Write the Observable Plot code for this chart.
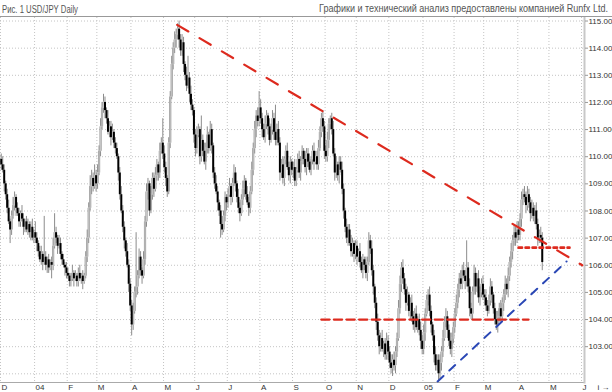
<!DOCTYPE html>
<html>
<head>
<meta charset="utf-8">
<script src="https://cdn.jsdelivr.net/npm/d3@7"></script>
<script src="https://cdn.jsdelivr.net/npm/@observablehq/plot@0.6"></script>
<style>
  html, body { margin: 0; padding: 0; background: #ffffff; }
  body { width: 612px; height: 392px; overflow: hidden; font-family: "Liberation Sans", Arial, sans-serif; }
  svg { display: block; }
</style>
</head>
<body>
<svg id="hdr" width="612" height="17">
  <text x="2" y="12.5" font-size="10" fill="#555" textLength="76" lengthAdjust="spacingAndGlyphs" font-family="Liberation Sans, Arial, sans-serif">Рис. 1  USD/JPY Daily</text>
  <text x="608" y="11.5" font-size="11" fill="#555" text-anchor="end" textLength="289" lengthAdjust="spacingAndGlyphs" font-family="Liberation Sans, Arial, sans-serif">Графики и технический анализ предоставлены компанией Runfx Ltd.</text>
  <line x1="0" x2="612" y1="16.5" y2="16.5" stroke="#999" stroke-width="1"></line>
</svg>
<div id="chart"></div>
<script>
// ---- axis data ----
const monthStart  = [0, 23, 45, 65, 88, 110, 131, 153, 175, 197, 219, 240, 262, 285, 306, 326, 349, 370, 392];
const monthLabels = ["D", "04", "F", "M", "A", "M", "J", "J", "A", "S", "O", "N", "D", "05", "F", "M", "A", "M", "J"];
const priceTicks  = [103, 104, 105, 106, 107, 108, 109, 110, 111, 112, 113, 114, 115];
const priceGrid   = [102, 103, 104, 105, 106, 107, 108, 109, 110, 111, 112, 113, 114, 115];

// ---- USD/JPY daily closes, Dec 2003 .. Apr 2005 (one per weekday) ----
const firstOpen = 109.9;
const close = [
  109.7,109.5,109.0,108.6,108.1,107.6,107.3,107.8,108.2,108.5,108.1,107.9,107.6,107.9,107.7,107.4,107.6,107.3,107.5,107.2,107.4,107.0,107.2,
  107.0,106.8,106.5,106.2,106.4,106.1,106.3,106.0,106.2,105.9,106.1,106.0,106.7,107.2,107.0,106.7,106.8,106.4,106.2,106.0,105.9,105.7,
  105.6,105.4,105.5,105.7,105.5,105.6,105.4,105.7,105.5,105.6,105.4,105.6,106.3,107.0,108.1,108.9,109.2,108.9,109.3,109.0,
  109.4,110.2,111.1,111.8,112.0,111.7,111.4,110.9,111.1,110.7,110.9,110.5,110.3,110.0,109.4,108.6,108.0,107.4,106.9,106.5,106.0,105.3,104.5,
  103.8,104.3,105.0,105.2,105.6,106.3,105.8,105.6,106.2,107.6,108.7,109.0,108.0,108.6,109.2,108.8,109.3,109.7,109.4,110.2,110.5,110.1,
  109.6,109.2,108.7,110.5,112.2,113.4,114.0,114.3,114.5,114.7,114.3,113.9,114.2,113.4,113.0,112.6,112.9,112.3,111.9,111.7,110.8,
  110.3,110.8,111.0,110.0,110.6,110.2,109.8,110.3,110.8,110.3,111.0,110.4,109.4,109.0,108.7,108.3,108.0,107.5,107.3,107.8,108.5,108.3,
  108.6,108.9,108.5,109.0,109.4,109.0,108.5,108.1,107.9,108.4,108.8,109.1,108.6,108.3,108.1,108.7,109.5,110.3,111.0,111.5,111.3,111.8,
  111.4,111.0,110.7,111.2,111.5,111.1,110.6,111.0,111.4,110.9,110.6,111.0,110.5,109.4,109.7,109.2,109.9,110.2,109.6,109.3,109.8,109.5,
  109.6,109.1,109.5,109.9,109.4,109.8,110.2,109.9,109.6,110.1,109.8,109.5,109.9,110.2,109.8,110.0,109.7,110.3,110.9,111.4,111.1,110.2,
  110.0,110.6,111.2,111.4,111.0,110.1,109.4,109.7,109.3,109.8,109.5,108.8,108.0,107.4,107.0,107.3,106.8,106.5,106.8,106.4,106.7,
  106.3,106.5,106.1,105.8,106.2,106.0,105.7,106.1,106.9,106.6,105.8,105.2,104.6,103.9,103.4,103.0,103.3,102.9,103.1,102.7,103.2,102.8,
  102.4,102.2,102.5,102.3,102.8,103.3,104.4,105.3,105.9,105.5,105.1,104.6,104.9,104.3,104.6,104.1,103.8,104.2,103.7,104.0,103.6,103.2,102.9,
  103.5,104.2,104.7,104.9,104.3,103.8,103.4,102.7,102.3,102.5,102.0,102.4,102.8,103.3,103.9,104.1,103.6,103.2,102.9,103.3,103.7,
  104.2,104.6,105.1,105.5,105.3,105.8,105.6,105.4,105.9,105.2,104.4,104.2,105.0,105.7,105.2,105.5,104.8,105.0,105.3,104.9,
  104.8,104.5,104.3,104.7,105.2,104.9,104.4,104.0,103.8,104.1,104.4,104.1,104.6,104.9,105.3,105.1,105.6,106.1,106.5,106.9,107.2,107.0,107.3,
  107.1,107.7,108.4,108.6,108.5,108.2,108.6,108.3,107.9,108.1,107.8,108.0,107.5,107.0,107.1,107.0,106.1
];
// upper / lower shadows, tenths of a yen
const wickUp = [
  2,3,2,1,2,3,1,2,3,2,1,2,2,1,3,2,1,2,2,1,2,3,1,
  4,2,1,2,3,1,15,2,1,2,1,2,3,7,2,1,3,2,1,2,1,2,
  2,1,2,3,1,2,1,2,3,1,2,1,2,3,2,4,3,2,4,2,
  3,2,3,2,3,2,1,3,2,2,3,1,2,2,1,2,3,2,2,1,3,2,2,
  2,3,2,20,2,3,2,1,3,2,3,2,1,3,2,2,3,2,1,3,2,9,
  3,2,1,2,2,3,2,3,2,2,3,2,3,2,1,3,8,2,3,2,1,
  2,3,2,1,9,2,3,2,3,1,3,2,1,2,3,2,1,2,3,2,2,1,
  2,3,1,2,3,2,1,3,2,2,3,2,1,3,2,2,3,2,3,2,3,6,
  3,2,2,3,2,1,3,2,3,2,10,2,3,2,2,3,1,2,3,2,2,1,
  2,3,1,2,3,2,2,1,3,2,2,3,1,2,3,2,2,3,2,2,3,2,
  2,3,2,1,2,3,2,3,1,2,2,3,2,1,3,2,2,3,2,1,2,
  2,1,3,2,2,1,3,2,3,2,3,2,1,2,3,2,2,3,1,2,3,2,
  2,3,2,3,2,2,3,3,2,3,2,2,3,1,2,3,2,2,3,1,2,3,2,
  3,2,2,2,3,2,1,2,3,2,2,3,2,3,2,3,2,2,3,2,2,
  2,3,2,2,3,2,3,2,10,2,3,2,2,3,2,2,3,2,2,3,
  2,3,2,2,3,2,1,2,3,2,2,3,2,2,3,2,3,2,3,2,3,2,3,
  3,2,3,2,3,2,3,2,2,3,2,2,3,2,2,3,2
];
const wickDown = [
  2,1,3,2,2,1,5,2,1,2,3,1,2,2,1,3,2,1,2,2,3,1,2,
  2,3,2,1,2,3,1,2,3,2,1,5,2,1,2,3,1,2,2,1,3,2,
  1,2,2,1,3,1,2,2,1,2,3,1,1,2,2,1,3,2,1,3,
  2,1,2,1,2,3,2,1,2,3,1,2,2,1,3,2,1,2,3,2,1,3,2,
  4,2,1,2,3,1,2,3,1,2,2,3,2,1,2,3,1,2,3,2,1,2,
  2,3,2,1,2,1,2,2,3,2,3,2,2,3,2,2,1,3,2,2,3,
  3,2,1,3,2,2,1,3,2,2,1,3,2,2,1,3,2,5,2,1,2,3,
  2,1,3,2,1,3,2,2,3,1,2,3,2,1,3,2,1,2,2,3,2,2,
  2,3,1,2,2,3,2,1,2,3,2,2,1,3,2,2,3,2,1,2,3,2,
  3,2,2,1,2,3,1,2,2,3,2,1,2,2,3,1,2,2,1,2,2,3,
  2,2,3,2,2,1,3,2,2,3,1,2,3,2,2,3,1,2,2,3,2,
  3,2,2,1,3,2,2,3,1,2,2,3,2,3,2,3,2,1,3,2,2,3,
  2,2,3,2,3,2,1,2,3,2,2,3,1,2,3,2,2,3,1,2,2,3,2,
  2,3,1,2,2,3,2,3,2,2,3,2,3,2,1,2,3,2,2,3,2,
  2,1,2,3,2,2,1,3,2,2,3,2,2,1,3,2,2,3,2,2,
  3,2,2,1,2,3,2,2,2,3,2,2,1,3,2,2,3,2,2,3,2,3,2,
  2,2,3,2,2,3,2,2,3,2,2,3,2,3,2,2,3
];

// ---- analyst lines (day index, price) ----
const resistanceLine = [{i: 119.2, p: 114.86}, {i: 392.5, p: 106.0}];
const supportLine    = [{i: 216.4, p: 104.0},  {i: 356.3, p: 104.0}];
const dottedLevel    = [{i: 349.5, p: 106.65}, {i: 383.9, p: 106.65}];
const uptrendLine    = [{i: 294.9, p: 101.72}, {i: 381.9, p: 106.14}];

if (close.length !== wickUp.length || close.length !== wickDown.length) {
  throw new Error(`length mismatch ${close.length} ${wickUp.length} ${wickDown.length}`);
}

const candles = close.map((c, i) => {
  const o = i === 0 ? firstOpen : close[i - 1];
  return {i: i + 0.5, o, c, up: c >= o,
          h: Math.max(o, c) + wickUp[i] / 10,
          l: Math.min(o, c) - wickDown[i] / 10};
});
const upCandles = candles.filter(d => d.up);
const downCandles = candles.filter(d => !d.up);
const labelOf = new Map(monthStart.map((m, k) => [m, monthLabels[k]]));

const chart = Plot.plot({
  width: 612,
  height: 375,
  marginLeft: 0,
  marginRight: 28,
  marginTop: 0,
  marginBottom: 10,
  style: {background: "transparent", fontFamily: "Liberation Sans, Arial, sans-serif", fontSize: "8px", color: "#333"},
  x: {type: "linear", domain: [0, 394], axis: null},
  y: {type: "linear", domain: [101.68, 115.13], axis: null},
  marks: [
    Plot.gridY(priceGrid, {stroke: "#c4c4c4", strokeOpacity: 1, strokeDasharray: "1,2"}),
    Plot.gridX(monthStart, {stroke: "#c4c4c4", strokeOpacity: 1, strokeDasharray: "1,2"}),
    Plot.frame({anchor: "bottom", stroke: "#aaa"}),
    Plot.frame({anchor: "right", stroke: "#c8c8c8", strokeWidth: 2}),
    Plot.axisY(priceTicks, {anchor: "right", tickSize: 3, tickPadding: 1, stroke: "#999",
      tickFormat: d3.format(".4f"), fill: "#333", fontSize: 8}),
    Plot.axisX(monthStart, {anchor: "bottom", tickSize: 0, tickPadding: 2, textAnchor: "start", dx: 1,
      tickFormat: d => labelOf.get(d), fill: "#333", fontSize: 8}),
    // shadows
    Plot.ruleX(candles, {x: "i", y1: "l", y2: "h", stroke: "#8c8c8c", strokeWidth: 1}),
    // rising bodies (grey outline, light core) then falling bodies (black)
    Plot.ruleX(upCandles, {x: "i", y1: "o", y2: "c", stroke: "#9a9a9a", strokeWidth: 2.2}),
    Plot.ruleX(upCandles, {x: "i", y1: "o", y2: "c", stroke: "#e6e6e6", strokeWidth: 0.6, insetTop: 0.6, insetBottom: 0.6}),
    Plot.ruleX(downCandles, {x: "i", y1: "o", y2: "c", stroke: "#000", strokeWidth: 2}),
    // analyst lines
    Plot.line(resistanceLine, {x: "i", y: "p", stroke: "#dd2a1e", strokeWidth: 2.2, strokeDasharray: "13,13"}),
    Plot.line(supportLine, {x: "i", y: "p", stroke: "#dd2a1e", strokeWidth: 2.2, strokeDasharray: "8.3,4.3"}),
    Plot.line(dottedLevel, {x: "i", y: "p", stroke: "#dd2a1e", strokeWidth: 2.6, strokeDasharray: "3.5,3.5"}),
    Plot.line(uptrendLine, {x: "i", y: "p", stroke: "#2a47b5", strokeWidth: 2, strokeDasharray: "8,8"})
  ]
});
document.getElementById("chart").appendChild(chart);
</script>
</body>
</html>
